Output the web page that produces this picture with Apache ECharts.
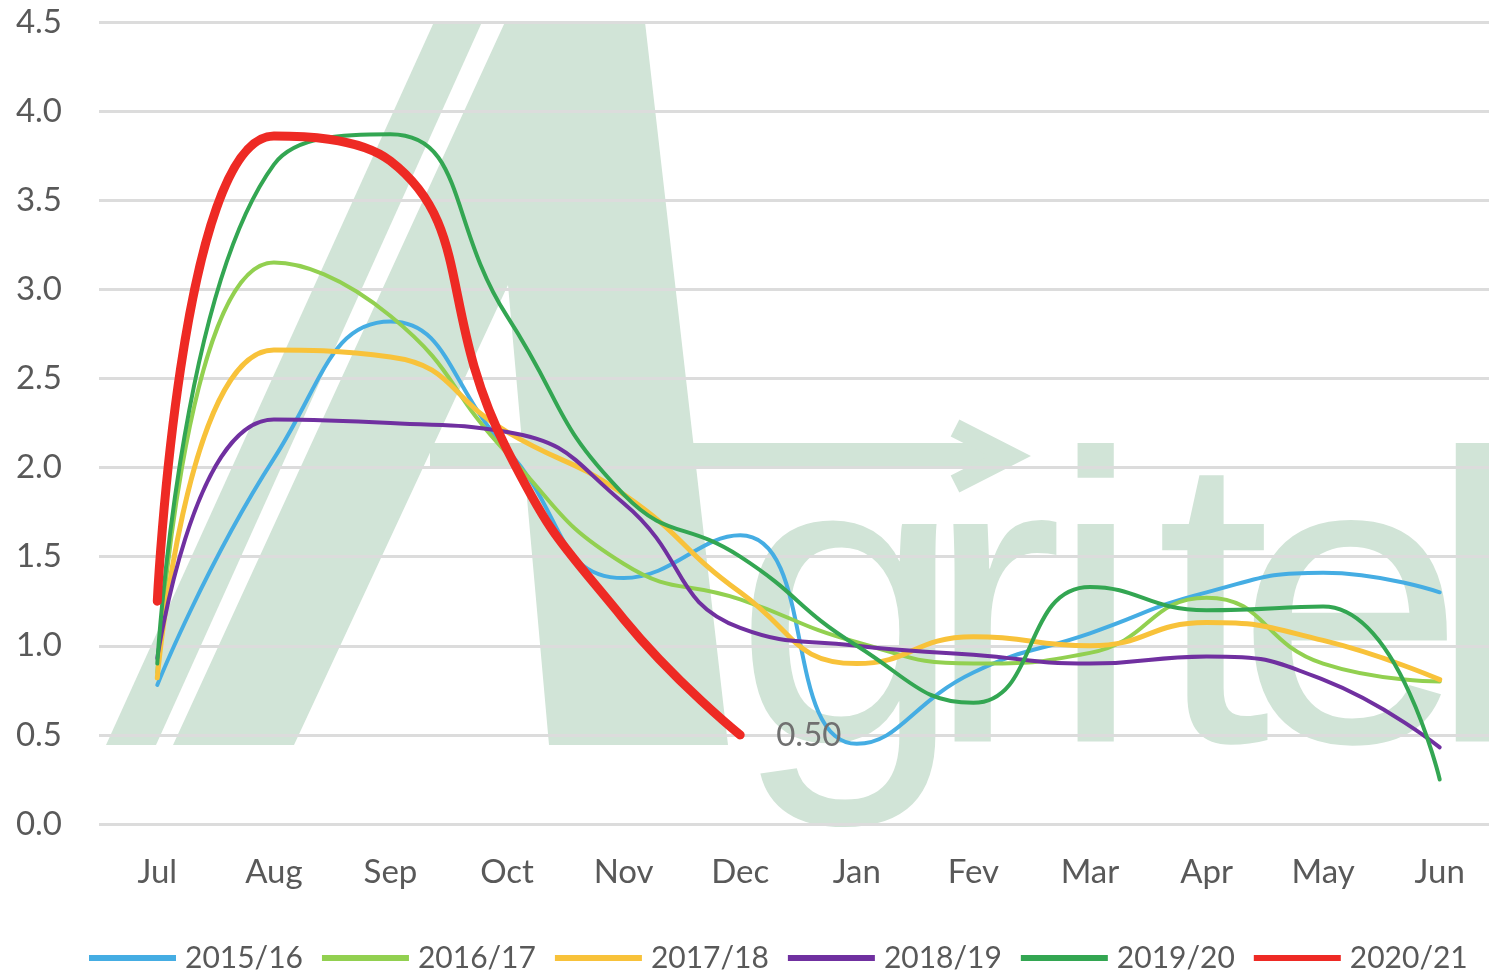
<!DOCTYPE html>
<html>
<head>
<meta charset="utf-8">
<script src="https://cdn.jsdelivr.net/npm/echarts@6/dist/echarts.min.js"></script>
<style>
html,body{margin:0;padding:0;background:#fff;overflow:hidden;}
#chart{width:1500px;height:974px;}
</style>
</head>
<body>
<div id="chart"></div>
<script>
const months = ['Jul','Aug','Sep','Oct','Nov','Dec','Jan','Fev','Mar','Apr','May','Jun'];
const yTicks = ['0.0','0.5','1.0','1.5','2.0','2.5','3.0','3.5','4.0','4.5'];
const seriesNames = ['2015/16','2016/17','2017/18','2018/19','2019/20','2020/21'];
const v2015 = [0.78, 2.05, 2.82, 2.10, 1.38, 1.62, 0.45, 0.85, 1.07, 1.30, 1.41, 1.30];
const v2016 = [0.85, 3.15, 2.85, 2.08, 1.46, 1.26, 1.02, 0.90, 0.96, 1.27, 0.90, 0.80];
const v2017 = [0.82, 2.66, 2.62, 2.20, 1.85, 1.30, 0.90, 1.05, 1.00, 1.13, 1.03, 0.81];
const v2018 = [0.93, 2.27, 2.25, 2.20, 1.80, 1.10, 1.00, 0.95, 0.90, 0.94, 0.81, 0.43];
const v2019 = [0.90, 3.70, 3.87, 2.85, 1.85, 1.50, 1.00, 0.68, 1.33, 1.20, 1.22, 0.25];
const v2020 = [1.25, 3.86, 3.72, 2.10, 1.15, 0.50];

const colors = ['#45ADE3', '#92D050', '#F8C23A', '#7030A0', '#33A652', '#EE2A24'];
const widths = [4, 4, 5, 4, 4, 9];
const allValues = [v2015, v2016, v2017, v2018, v2019, v2020];

const chart = echarts.init(document.getElementById('chart'), null, {renderer: 'canvas'});
const labelColor = '#595959';
const fontFamily = 'Lato, "Open Sans", sans-serif';
const wm = '#D1E4D7';

const series = seriesNames.map((name, i) => {
  const s = {
    name: name,
    type: 'line',
    data: allValues[i],
    smooth: 0.5,
    symbol: 'none',
    showSymbol: false,
    lineStyle: {color: colors[i], width: widths[i], cap: 'round'},
    itemStyle: {color: colors[i]},
    z: 2 + i
  };
  if (i === 5) {
    s.endLabel = {
      show: true,
      formatter: p => Number(p.value).toFixed(2),
      color: '#707070',
      fontSize: 33,
      fontFamily: fontFamily,
      distance: 36
    };
  }
  return s;
});

const letters = [
  {t: 'g', x: 734}, {t: 'r', x: 926}, {t: 'i', x: 1050},
  {t: 't', x: 1156}, {t: 'e', x: 1236}, {t: 'l', x: 1428}
];

const graphic = [
  {type: 'polygon', z: -10, shape: {points: [[106,745],[156,745],[482,22],[434,22]]}, style: {fill: wm}},
  {type: 'polygon', z: -10, shape: {points: [[173,745],[505,22],[645,22],[728,745],[549,745],[508,285],[294,745]]}, style: {fill: wm}},
  {type: 'rect', z: -10, shape: {x: 430, y: 443, width: 570, height: 26}, style: {fill: wm}},
  {type: 'polyline', z: -10, shape: {points: [[955,428],[1010,456],[955,484]]}, style: {stroke: wm, lineWidth: 19, fill: null, lineJoin: 'miter'}}
].concat(letters.map(l => ({
  type: 'text', z: -10, x: l.x, y: 628,
  style: {text: l.t, fill: wm, font: 'normal 412px "Liberation Sans", Arial, sans-serif', verticalAlign: 'middle', align: 'left'}
})));

chart.setOption({
  animation: false,
  backgroundColor: '#ffffff',
  graphic: graphic,
  grid: {left: 99, right: 2, top: 22, bottom: 150, containLabel: false},
  legend: {
    data: seriesNames,
    top: 938,
    left: 84,
    icon: 'rect',
    itemWidth: 87,
    itemHeight: 6,
    itemGap: 19,
    textStyle: {color: labelColor, fontSize: 30, fontFamily: fontFamily, padding: [0, 0, 0, 4]}
  },
  xAxis: {
    type: 'category',
    data: months,
    boundaryGap: true,
    axisLine: {show: false},
    axisTick: {show: false},
    axisLabel: {color: labelColor, fontSize: 33, fontFamily: fontFamily, margin: 32}
  },
  yAxis: {
    type: 'value',
    min: 0,
    max: 4.5,
    interval: 0.5,
    axisLine: {show: false},
    axisTick: {show: false},
    splitLine: {lineStyle: {color: '#DCDCDC', width: 3}},
    axisLabel: {
      color: labelColor, fontSize: 33, fontFamily: fontFamily, margin: 37,
      formatter: v => yTicks[Math.round(v / 0.5)]
    }
  },
  series: series
});
</script>
</body>
</html>
